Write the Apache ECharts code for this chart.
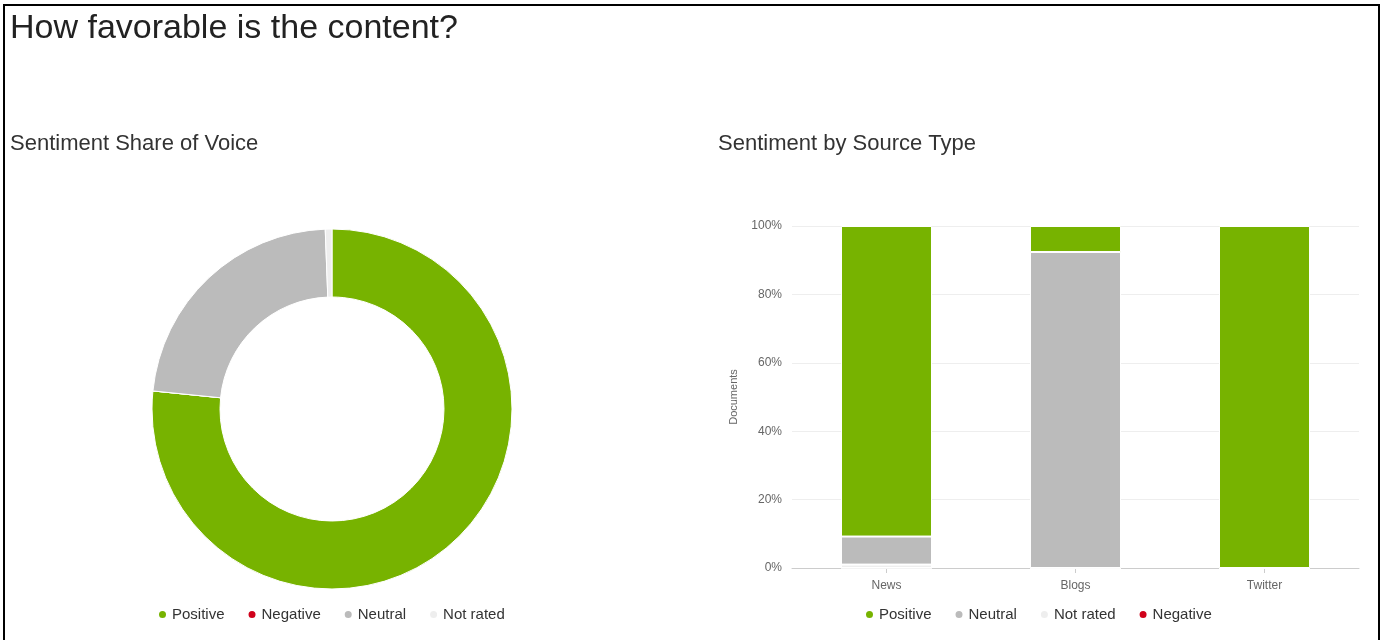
<!DOCTYPE html>
<html><head><meta charset="utf-8">
<script src="https://cdn.jsdelivr.net/npm/echarts@6/dist/echarts.min.js"></script>
<style>html,body{margin:0;padding:0;background:#fff;}#c{width:1382px;height:640px;}</style>
</head><body><div id="c"></div>
<script>
var pieNames = ['Positive', 'Negative', 'Neutral', 'Not rated'];
var pieValues = [76.6, 0, 22.8, 0.6];
var categories = ['News', 'Blogs', 'Twitter'];
var positive = [90.8, 7.6, 100];
var neutral = [8.2, 92.4, 0];
var notRated = [1.0, 0, 0];
var negative = [0, 0, 0];
var barLegend = ['Positive', 'Neutral', 'Not rated', 'Negative'];
var colors = {'Positive': '#77b300', 'Negative': '#d0021b', 'Neutral': '#bbbbbb', 'Not rated': '#eeeeee'};

var font = 'Liberation Sans, Arial, sans-serif';
var chart = echarts.init(document.getElementById('c'));

function barSeries(name, data) {
  return {
    name: name, type: 'bar', stack: 'total', data: data,
    barWidth: 91, xAxisIndex: 0, yAxisIndex: 0,
    itemStyle: {color: colors[name], borderColor: '#fff', borderWidth: 1},
    emphasis: {disabled: true}
  };
}

chart.setOption({
  animation: false,
  textStyle: {fontFamily: font},
  title: [
    {text: 'How favorable is the content?', left: 10, top: 12, padding: 0, textStyle: {fontSize: 34, fontWeight: 'normal', color: '#222', fontFamily: font}},
    {text: 'Sentiment Share of Voice', left: 10, top: 133, padding: 0, textStyle: {fontSize: 22, fontWeight: 'normal', color: '#333', fontFamily: font}},
    {text: 'Sentiment by Source Type', left: 718, top: 133, padding: 0, textStyle: {fontSize: 22, fontWeight: 'normal', color: '#333', fontFamily: font}}
  ],
  graphic: [{
    type: 'polyline', silent: true,
    shape: {points: [[4, 645], [4, 5], [1379, 5], [1379, 645]]},
    style: {stroke: '#000', lineWidth: 2, fill: null}
  }],
  legend: [
    {
      data: pieNames, left: 152, top: 602, icon: 'circle', itemWidth: 9, itemHeight: 9, itemGap: 22,
      textStyle: {fontSize: 15, color: '#333', fontFamily: font}, selectedMode: false
    },
    {
      data: barLegend, left: 859, top: 602, icon: 'circle', itemWidth: 9, itemHeight: 9, itemGap: 22,
      textStyle: {fontSize: 15, color: '#333', fontFamily: font}, selectedMode: false
    }
  ],
  grid: {left: 792, right: 23, top: 226, bottom: 72},
  xAxis: {
    type: 'category', data: categories,
    axisLine: {lineStyle: {color: '#cccccc'}},
    axisTick: {show: true, alignWithLabel: true, lineStyle: {color: '#cccccc'}},
    axisLabel: {color: '#666', fontSize: 12, margin: 12, fontFamily: font}
  },
  yAxis: {
    type: 'value', min: 0, max: 100, interval: 20,
    name: 'Documents', nameLocation: 'middle', nameGap: 53, nameRotate: 90,
    nameTextStyle: {color: '#666', fontSize: 11, fontFamily: font},
    axisLabel: {formatter: '{value}%', color: '#666', fontSize: 12, margin: 10, fontFamily: font},
    splitLine: {lineStyle: {color: '#eeeeee'}},
    axisLine: {show: false}, axisTick: {show: false}
  },
  series: [
    {
      name: 'share', type: 'pie', center: [332, 409], radius: [112, 180],
      startAngle: 90, clockwise: true, label: {show: false}, labelLine: {show: false},
      emphasis: {disabled: true},
      itemStyle: {borderColor: '#fff', borderWidth: 1},
      data: pieNames.map(function (n, i) { return {name: n, value: pieValues[i], itemStyle: {color: colors[n]}}; })
    },
    barSeries('Negative', negative),
    barSeries('Not rated', notRated),
    barSeries('Neutral', neutral),
    barSeries('Positive', positive)
  ]
});
</script></body></html>
